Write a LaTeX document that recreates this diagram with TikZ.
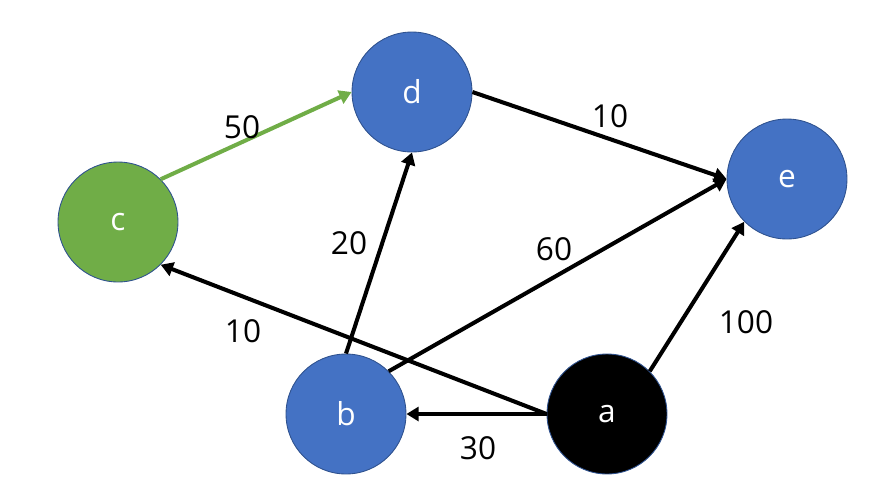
\documentclass[tikz,border=0pt]{standalone}
\usepackage{fontspec}
\setmainfont{Open Sans}
\usetikzlibrary{arrows.meta}
\definecolor{nblue}{HTML}{4472C4}
\definecolor{ngreen}{HTML}{70AD47}
\definecolor{nborder}{HTML}{2F528F}
\begin{document}
\begin{tikzpicture}[x=0.02cm,y=-0.02cm,
  vert/.style={circle,minimum size=2.4cm,inner sep=0pt,draw=nborder,line width=0.5pt,text=white,font=\fontsize{18}{20}\selectfont},
  edge/.style={line width=2.3pt,-{Triangle[length=7pt,width=8pt]}},
  wlabel/.style={font=\fontsize{18}{20}\selectfont,inner sep=0pt}]
\useasboundingbox (0,0) rectangle (887,495);
\node[vert,fill=nblue] (d) at (412,92) {d};
\node[vert,fill=nblue] (e) at (787,179) {e};
\node[vert,fill=ngreen] (c) at (118,222) {c};
\node[vert,fill=nblue] (b) at (346,414) {b};
\node[vert,fill=black] (a) at (607,414) {a};
\draw[edge,draw=ngreen,-{Triangle[length=7pt,width=8pt]}] (c.north east) -- (d.west);
\draw[edge] (d.east) -- (e.west);
\draw[edge] (b.north) -- (d.south);
\draw[edge] (b.north east) -- (e.west);
\draw[edge] (a.west) -- (c.south east);
\draw[edge] (a.west) -- (b.east);
\draw[edge] (a.north east) -- (e.south west);
\node[wlabel] (l1) at (242,127) {50};
\node[wlabel] (l2) at (610,116) {10};
\node[wlabel] (l3) at (349,243) {20};
\node[wlabel] (l4) at (554,249) {60};
\node[wlabel] (l5) at (243,331) {10};
\node[wlabel] (l6) at (478,448) {30};
\node[wlabel] (l7) at (746,322) {100};
\end{tikzpicture}
\end{document}
